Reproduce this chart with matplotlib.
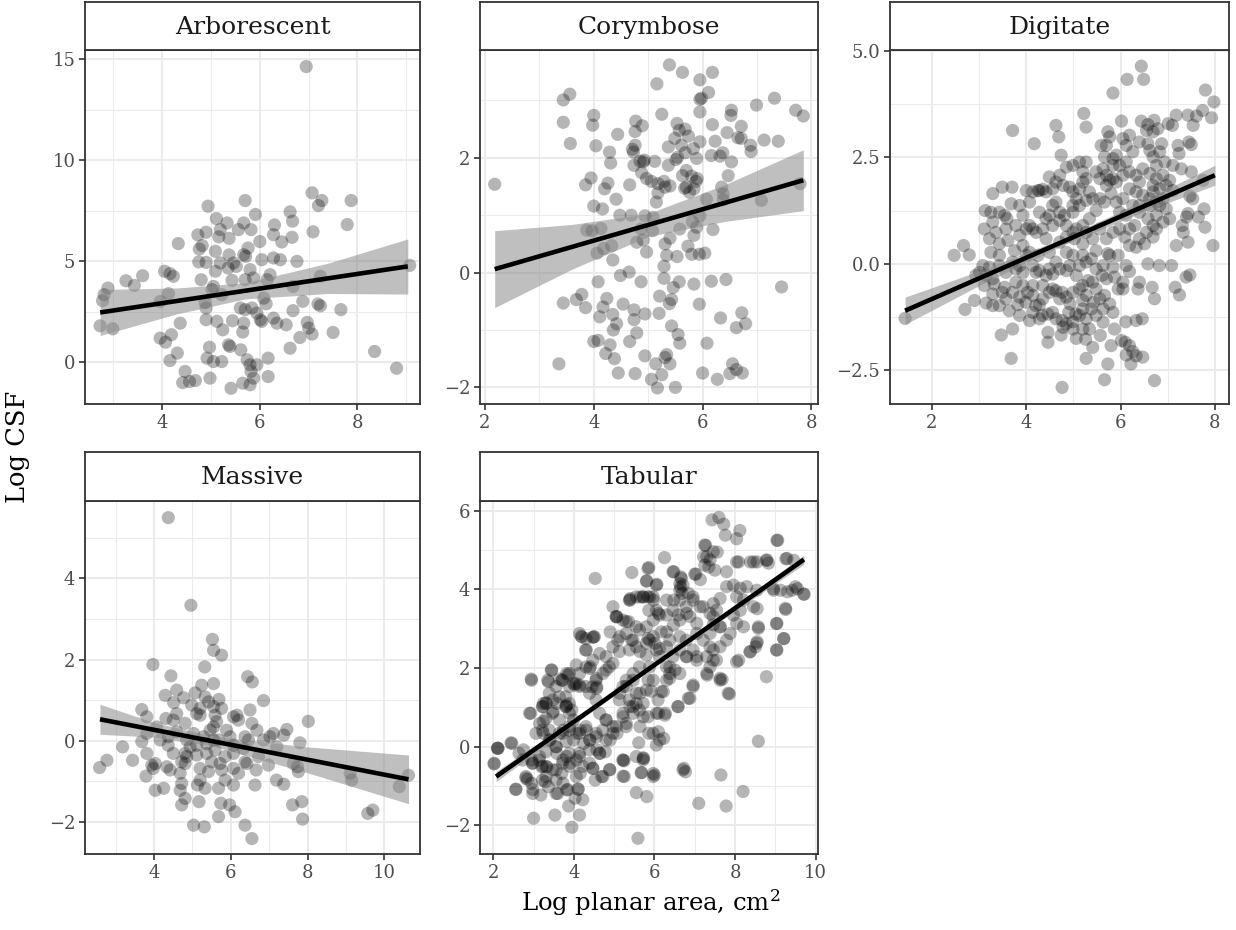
import numpy as np
import matplotlib
matplotlib.use("Agg")
import matplotlib.pyplot as plt

plt.rcParams['font.family'] = ['DejaVu Serif']
plt.rcParams['mathtext.fontset'] = 'dejavuserif'
plt.rcParams['axes.unicode_minus'] = True

panel_names = ["Arborescent", "Corymbose", "Digitate", "Massive", "Tabular"]
x_title = "Log planar area, cm$^2$"
y_title = "Log CSF"

arb_points = [
    (6.95,14.63),(7.07,8.38),(7.27,8.0),(7.2,7.75),(7.87,8.0),(7.79,6.81),(7.09,6.45),(6.62,7.44),(6.67,6.98),(6.66,6.18),
    (6.3,6.79),(6.28,6.31),(6.45,5.95),(5.7,8.0),(5.91,7.31),(4.94,7.72),(5.11,7.11),(5.33,6.89),(5.19,6.56),(5.16,6.2),
    (5.37,6.13),(5.56,6.56),(5.67,6.89),(5.82,6.56),(6.0,5.97),(4.73,6.3),(4.9,6.43),(4.33,5.87),(4.76,5.6),(4.82,5.77),
    (5.09,5.49),(5.37,5.31),(5.76,5.65),(5.71,5.24),(5.67,5.32),(5.46,4.91),(5.19,4.91),(4.75,4.96),(4.9,4.94),(5.09,4.5),
    (5.35,4.66),(5.52,4.74),(5.8,4.58),(6.04,5.07),(6.28,5.16),(6.42,5.07),(6.76,4.99),(6.21,4.33),(6.15,4.08),(5.87,4.17),
    (5.7,4.08),(5.43,4.05),(5.05,3.75),(5.02,3.59),(5.22,3.34),(4.8,4.08),(4.05,4.5),(4.16,4.38),(4.23,4.25),(3.6,4.28),
    (3.26,4.03),(3.43,3.8),(2.89,3.67),(2.81,3.34),(2.78,3.04),(4.13,3.39),(3.96,3.01),(4.88,2.96),(4.9,2.68),(5.6,2.68),
    (5.7,2.6),(5.84,2.68),(6.08,3.17),(6.13,2.89),(6.68,3.75),(7.24,4.25),(7.24,2.79),(7.19,2.88),(6.88,3.01),(6.68,2.55),
    (7.66,2.6),(9.07,4.79),(2.73,1.8),(2.99,1.65),(4.37,1.93),(4.9,2.1),(5.12,2.02),(5.24,1.6),(5.44,2.05),(5.67,1.93),
    (5.65,1.49),(5.94,2.43),(6.01,2.1),(6.04,2.02),(6.28,2.18),(6.35,1.93),(6.54,1.85),(6.97,1.97),(7.0,1.69),(7.07,1.39),
    (6.82,1.22),(7.5,1.47),(3.96,1.19),(4.07,0.99),(4.19,1.36),(4.31,0.45),(4.16,0.08),(4.97,0.74),(5.36,0.86),(5.39,0.78),
    (5.61,0.61),(6.62,0.69),(6.17,0.2),(4.92,0.2),(5.05,0.03),(5.22,0.03),(5.74,0.12),(5.8,-0.13),(5.94,-0.13),(5.82,-0.46),
    (5.87,-0.79),(6.17,-0.71),(4.47,-0.46),(4.42,-1.01),(4.56,-0.96),(4.68,-0.91),(4.98,-0.79),(5.41,-1.29),(5.65,-1.04),(5.8,-1.12),
    (8.35,0.53),(8.8,-0.3),
]

cor_points = [
    (2.18,1.54),(3.36,-1.59),(3.44,3.01),(3.56,3.11),(3.44,2.62),(3.57,2.25),(4.0,2.74),(3.98,2.57),(4.04,2.21),(4.44,2.41),
    (4.29,2.1),(4.31,1.91),(3.85,1.53),(3.95,1.65),(4.2,1.46),(4.26,1.56),(4.41,1.28),(4.0,1.16),(4.16,1.11),(4.66,1.53),
    (4.48,1.0),(4.69,1.0),(3.87,0.74),(3.97,0.73),(4.13,0.77),(4.06,0.34),(4.18,0.42),(4.33,0.47),(4.35,0.22),(4.49,-0.05),
    (4.65,0.01),(4.08,-0.16),(4.87,-0.16),(3.44,-0.53),(3.68,-0.47),(3.78,-0.38),(3.85,-0.61),(4.24,-0.45),(4.17,-0.6),(4.11,-0.77),
    (4.35,-0.73),(4.54,-0.55),(4.74,-0.65),(4.74,-0.82),(4.94,-0.72),(4.42,-0.89),(4.36,-1.0),(4.0,-1.2),(4.08,-1.18),(4.3,-1.26),
    (4.66,-1.2),(4.79,-1.05),(4.22,-1.41),(4.38,-1.5),(4.45,-1.75),(4.76,-1.76),(4.94,-1.45),(5.14,-1.59),(5.06,-1.86),(5.25,-1.78),
    (5.17,-2.01),(5.5,-2.0),(5.4,-1.59),(5.34,-1.43),(5.31,-1.48),(6.0,-1.75),(6.27,-1.86),(6.5,-1.76),(6.55,-1.59),(6.62,-1.69),
    (6.73,-1.75),(5.43,-0.93),(5.55,-1.08),(5.58,-1.23),(6.08,-1.23),(6.33,-0.79),(6.62,-0.96),(6.72,-0.7),(6.79,-0.89),(5.2,-0.71),
    (5.21,-0.41),(5.39,-0.54),(5.43,-0.47),(5.46,-0.26),(5.57,-0.16),(5.29,-0.1),(5.84,-0.2),(5.94,-0.55),(6.16,-0.15),(6.43,-0.12),
    (7.45,-0.25),(5.29,0.11),(5.34,0.3),(5.31,0.5),(5.4,0.6),(5.53,0.28),(4.97,0.36),(4.79,0.53),(4.91,0.57),(4.87,0.76),
    (4.94,0.99),(5.09,0.96),(5.08,0.73),(5.15,1.23),(5.18,1.39),(5.4,1.51),(5.58,0.76),(5.73,0.46),(5.8,0.32),(5.94,0.32),
    (6.04,0.34),(5.84,0.65),(5.89,0.79),(5.81,0.89),(5.95,0.99),(6.19,0.75),(6.07,1.28),(6.38,1.27),(6.38,1.37),(6.35,1.49),
    (6.47,1.69),(7.08,1.26),(7.79,1.55),(4.97,1.64),(5.06,1.59),(5.29,1.59),(5.31,1.49),(5.18,1.55),(4.74,1.87),(4.88,1.74),
    (4.85,1.94),(4.93,1.96),(5.12,1.94),(5.37,1.87),(5.51,1.97),(5.54,2.01),(5.63,1.69),(5.7,1.78),(5.8,1.68),(5.88,1.59),
    (5.9,1.64),(5.7,1.49),(5.76,1.4),(5.84,1.46),(5.67,1.47),(4.71,2.15),(4.73,2.1),(4.76,2.22),(4.91,1.93),(5.37,2.19),
    (5.49,2.34),(5.57,2.48),(5.68,2.5),(5.74,2.38),(5.61,2.22),(5.83,2.16),(5.95,2.28),(5.89,1.99),(5.68,2.09),(5.53,2.6),
    (4.77,2.64),(4.89,2.56),(4.76,2.46),(5.25,2.76),(5.16,3.29),(5.39,3.62),(5.63,3.49),(5.95,3.36),(6.18,3.49),(5.95,3.02),
    (6.11,3.14),(5.98,3.04),(5.95,2.8),(6.18,2.58),(6.23,2.29),(6.16,2.04),(6.32,2.03),(6.37,2.09),(6.53,1.93),(6.45,2.44),
    (6.53,2.83),(6.52,2.74),(6.71,2.55),(6.65,2.35),(6.71,2.34),(6.88,2.22),(6.89,2.11),(6.99,2.92),(7.13,2.31),(7.32,3.04),
    (7.39,2.29),(7.71,2.83),(7.85,2.73),
]

dig_points = [
    (1.43,-1.28),(2.47,0.2),(2.67,0.43),(2.79,0.21),(2.7,-1.07),(2.9,-0.86),(3.15,-0.92),(2.93,-0.27),(3.08,-0.04),(3.29,1.65),
    (3.49,1.8),(3.7,1.8),(3.71,3.13),(4.17,2.82),(4.63,3.25),(4.69,2.98),(4.74,2.55),(5.22,3.53),(5.27,3.21),(5.84,4.01),
    (6.14,4.33),(6.44,4.64),(6.49,4.33),(7.8,4.08),(7.98,3.8),(7.93,3.43),(7.74,3.6),(7.61,3.47),(7.43,3.49),(7.54,3.25),
    (7.18,3.49),(7.1,3.25),(7.01,3.29),(6.71,3.37),(6.44,3.35),(6.02,3.35),(6.58,3.27),(6.79,3.17),(7.45,2.86),(7.5,2.8),
    (7.22,2.78),(7.24,2.59),(7.29,2.23),(7.5,2.16),(7.75,1.96),(7.47,1.59),(7.53,1.53),(7.77,1.29),(7.65,1.1),(7.4,1.1),
    (7.43,1.18),(7.31,0.9),(7.33,0.74),(7.79,0.86),(7.43,0.51),(7.18,0.43),(7.96,0.43),(7.08,-0.04),(6.82,-0.04),(6.58,0.0),
    (7.47,-0.26),(7.39,-0.31),(7.16,-0.55),(7.25,-0.73),(6.67,-0.55),(6.72,-0.82),(6.4,-0.43),(6.37,-0.59),(6.12,-0.04),(6.19,-0.18),
    (6.05,-0.43),(5.84,-0.08),(5.87,-0.31),(5.95,-0.59),(6.05,-0.59),(5.63,-0.04),(5.61,-0.27),(5.7,-0.35),(5.66,-0.74),(5.77,-0.94),
    (5.84,-1.14),(5.87,-1.53),(5.8,-1.92),(5.73,-2.35),(5.66,-2.72),(6.02,-1.8),(6.1,-1.84),(6.19,-1.92),(6.11,-1.36),(6.33,-1.33),
    (6.46,-1.29),(6.26,-2.06),(6.12,-2.14),(6.33,-2.16),(6.47,-2.19),(6.22,-2.35),(6.72,-2.74),(4.76,-2.9),(3.68,-2.22),(3.47,-1.67),
    (3.71,-1.53),(4.46,-1.61),(4.46,-1.84),(4.74,-1.67),(5.06,-1.75),(5.27,-2.22),(5.41,-1.96),(5.26,-1.77),(5.2,-1.53),(5.57,-1.68),
    (4.99,-1.36),(4.85,-1.41),(4.76,-1.33),(5.05,-1.18),(4.9,-1.14),(4.56,-1.14),(4.34,-1.21),(4.46,-1.18),(4.07,-1.33),(3.86,-1.21),
    (3.82,-0.96),(3.64,-1.1),(3.43,-0.98),(3.49,-0.67),(3.29,-0.71),(3.32,-0.47),(3.54,-0.55),(3.71,-0.67),(3.99,-0.9),(4.03,-0.67),
    (4.2,-0.98),(4.28,-0.96),(4.49,-0.67),(4.63,-0.63),(4.76,-0.67),(4.85,-0.78),(4.93,-0.94),(5.2,-0.86),(5.27,-0.74),(5.38,-1.06),
    (5.43,-0.9),(5.2,-0.51),(5.31,-0.39),(5.48,-0.59),(5.56,-0.82),(5.06,-0.27),(4.85,-0.16),(4.71,-0.12),(4.56,-0.24),(4.42,-0.27),
    (4.28,-0.16),(4.14,-0.04),(3.93,-0.2),(3.78,-0.12),(3.57,-0.2),(3.29,-0.35),(3.22,-0.08),(3.25,0.27),(3.43,0.2),(3.75,0.31),
    (3.93,0.43),(4.07,0.27),(4.0,0.2),(4.25,0.2),(4.49,0.27),(4.85,0.27),(4.99,0.2),(5.2,0.2),(5.27,0.04),(5.48,0.31),
    (5.73,0.24),(5.38,0.12),(5.2,0.47),(5.02,0.59),(4.85,0.63),(4.71,0.51),(4.42,0.59),(4.21,0.74),(4.0,0.82),(3.86,0.67),
    (3.61,0.55),(3.43,0.47),(3.22,0.59),(3.11,0.82),(3.29,0.98),(3.25,1.21),(3.13,1.25),(3.43,1.21),(3.54,1.14),(3.59,1.06),
    (3.68,1.41),(3.86,1.37),(4.07,1.45),(4.14,1.69),(4.0,1.72),(4.25,1.72),(4.35,1.75),(4.49,2.04),(4.63,1.92),(4.78,1.84),
    (4.92,1.8),(4.56,1.37),(4.63,1.45),(4.28,1.21),(4.07,0.9),(4.14,0.82),(4.35,0.82),(4.71,1.02),(4.81,1.14),(4.99,1.21),
    (5.06,1.53),(5.2,1.92),(5.27,2.0),(5.2,2.16),(4.99,2.31),(4.85,2.27),(4.71,2.08),(5.13,2.39),(5.27,2.39),(5.59,2.78),
    (5.66,2.51),(5.73,3.1),(5.77,2.98),(5.7,2.78),(5.84,2.47),(5.91,2.55),(5.84,2.31),(5.63,2.23),(5.48,2.16),(5.56,2.0),
    (5.7,2.08),(5.7,1.84),(5.8,1.65),(5.56,1.53),(5.66,1.45),(5.41,1.53),(5.27,1.49),(5.48,1.25),(5.34,1.06),(5.2,0.9),
    (5.06,0.82),(5.56,0.82),(5.7,0.59),(5.84,0.74),(5.98,0.82),(6.09,0.63),(6.19,0.43),(6.33,0.39),(6.4,0.59),(6.51,0.47),
    (6.69,0.63),(6.76,0.82),(6.9,0.98),(7.04,1.06),(6.97,1.29),(6.76,1.14),(6.58,1.06),(6.4,1.21),(6.26,1.37),(6.12,1.14),
    (5.98,1.21),(5.91,1.45),(6.05,1.53),(6.19,1.76),(6.33,1.69),(6.47,1.61),(6.62,1.53),(6.76,1.45),(6.9,1.53),(6.97,1.84),
    (7.11,1.72),(7.04,1.96),(6.9,2.08),(6.76,2.0),(6.62,2.12),(6.47,2.23),(6.33,2.08),(6.19,2.16),(6.05,2.08),(5.98,2.31),
    (6.12,2.39),(6.26,2.63),(6.12,2.78),(6.05,2.94),(6.19,3.02),(6.4,2.86),(6.58,2.82),(6.62,2.66),(6.69,2.51),(6.83,2.63),
    (6.87,2.82),(6.94,2.39),(6.76,2.31),(7.11,2.31),(6.69,3.1),(6.55,3.13),(5.84,2.0),(5.77,1.96),(5.91,1.92),(6.4,1.92),
    (6.69,1.84),(6.83,1.76),(6.69,1.69),(6.4,1.37),(6.62,1.37),(6.83,1.37),(6.55,0.74),(6.69,0.9),(6.3,0.9),(6.19,0.82),
    (5.95,0.2),(5.77,0.2),(5.41,0.59),(5.27,0.74),(4.99,0.74),(4.85,0.9),(4.56,0.9),(4.42,1.06),(4.56,1.76),(4.42,1.69),
    (4.28,1.72),(4.99,1.69),(5.13,1.76),(5.34,1.69),(5.13,1.37),(4.99,1.37),(4.71,1.21),(4.49,1.14),(3.93,1.14),(3.78,0.9),
    (3.57,0.82),(3.36,0.74),(3.71,0.04),(3.86,-0.04),(4.21,-0.2),(4.49,-0.12),(4.63,0.04),(4.92,-0.04),(5.13,-0.04),(5.48,-0.12),
    (5.41,-0.43),(5.13,-0.59),(4.99,-0.67),(4.56,-0.59),(4.35,-0.51),(4.14,-0.51),(3.93,-0.51),(3.78,-0.43),(4.14,-0.74),(4.35,-0.82),
    (4.71,-0.82),(5.2,-1.06),(5.27,-1.29),(5.13,-1.21),(5.48,-1.21),(5.63,-1.06),(5.63,-1.37),(5.34,-1.53),(4.99,-1.53),(4.78,-1.49),
    (4.63,-1.29),(4.28,-1.29),(4.14,-1.14),(3.86,-0.78),(3.57,-0.82),(3.29,-0.98),(3.11,-0.51),(3.15,-0.27),(3.43,-0.04),(3.01,-0.2),
]

mas_points = [
    (4.37,5.5),(4.96,3.34),(5.52,2.5),(5.55,2.23),(5.76,2.11),(3.97,1.88),(5.32,1.82),(4.44,1.6),(6.44,1.58),(6.56,1.45),
    (5.24,1.37),(5.55,1.41),(4.59,1.25),(4.29,1.12),(4.77,1.06),(4.51,0.94),(5.07,1.18),(5.33,1.08),(5.42,0.96),(5.69,1.02),
    (6.85,0.99),(4.98,0.88),(5.2,0.8),(5.55,0.84),(5.76,0.8),(6.5,0.76),(3.68,0.77),(3.81,0.59),(4.31,0.55),(4.5,0.51),
    (4.59,0.67),(5.11,0.67),(5.2,0.63),(5.59,0.63),(5.63,0.47),(6.07,0.59),(6.2,0.51),(6.16,0.63),(8.02,0.48),(7.46,0.28),
    (7.38,0.14),(7.11,0.18),(7.02,0.1),(6.85,0.02),(6.68,0.26),(6.55,0.43),(6.37,0.1),(6.46,0.02),(5.89,0.26),(5.98,0.1),
    (5.68,0.02),(5.46,0.26),(5.55,0.34),(5.29,0.1),(5.03,0.18),(4.81,0.43),(4.59,0.22),(4.37,0.1),(4.07,0.34),(3.81,0.18),
    (3.68,-0.02),(4.16,0.02),(4.37,-0.11),(4.85,0.02),(5.11,-0.11),(5.37,-0.07),(5.59,-0.23),(6.07,-0.11),(6.33,-0.19),(6.72,-0.39),
    (6.98,-0.6),(7.2,-0.15),(7.8,-0.05),(7.63,-0.56),(7.74,-0.64),(7.76,-0.76),(7.19,-0.97),(7.38,-1.07),(6.63,-1.09),(6.66,-0.72),
    (6.42,-0.56),(6.37,-0.52),(6.2,-0.8),(6.07,-0.68),(5.85,-0.39),(5.72,-0.56),(5.76,-0.72),(5.85,-0.97),(6.07,-1.09),(5.68,-1.17),
    (5.5,-0.52),(5.42,-0.76),(5.2,-0.68),(5.2,-0.97),(5.33,-1.17),(5.13,-1.09),(4.81,-0.31),(4.72,-0.52),(4.81,-0.56),(4.5,-0.31),
    (4.33,-0.64),(4.42,-0.72),(4.68,-0.8),(4.72,-1.05),(4.68,-1.22),(4.81,-1.42),(4.72,-1.58),(5.17,-1.5),(4.03,-0.56),(3.98,-0.68),
    (3.94,-0.6),(3.81,-0.31),(3.79,-0.87),(4.03,-1.22),(4.25,-1.17),(3.18,-0.15),(3.44,-0.48),(2.77,-0.48),(2.58,-0.66),(5.74,-1.54),
    (5.97,-1.58),(6.11,-1.75),(5.68,-1.87),(5.03,-2.08),(5.31,-2.12),(6.37,-2.08),(6.55,-2.41),(7.61,-1.58),(7.85,-1.5),(7.87,-1.93),
    (9.15,-0.97),(9.11,-0.8),(10.39,-1.13),(10.63,-0.85),(9.57,-1.79),(9.7,-1.71),(4.85,-0.39),(5.11,-0.35),(5.37,-0.31),(6.07,-0.31),
    (4.94,-0.15),(5.55,0.02),
]

tab_points = [
    (7.43,5.77),(7.6,5.83),(7.72,5.66),(7.76,5.38),(8.04,5.29),(8.12,5.5),(9.06,5.25),(7.27,5.12),(7.22,4.83),(7.35,4.57),
    (7.56,4.95),(7.03,4.39),(7.14,4.25),(6.25,4.81),(5.86,4.56),(5.81,4.22),(6.06,4.13),(5.44,4.43),(4.53,4.28),(8.09,4.7),
    (8.38,4.7),(8.55,4.7),(8.78,4.74),(8.83,4.67),(9.26,4.78),(9.46,4.74),(8.95,4.02),(9.13,3.98),(9.3,3.94),(9.55,4.02),
    (9.71,3.88),(9.26,3.49),(9.03,3.13),(9.21,2.75),(9.03,2.46),(8.58,3.05),(8.55,3.51),(8.55,2.67),(8.51,2.54),(8.37,2.41),
    (8.09,2.2),(8.78,1.78),(8.58,0.14),(8.2,-1.14),(7.78,-1.51),(7.65,-0.72),(7.1,-1.44),(6.73,-0.55),(6.77,-0.64),(7.86,1.34),
    (7.68,1.71),(7.31,1.82),(6.96,1.57),(6.88,1.23),(6.58,1.02),(6.27,0.85),(6.1,0.85),(6.1,0.38),(5.86,0.34),(6.23,0.21),
    (6.05,0.04),(5.61,0.1),(5.73,-0.3),(5.25,-0.36),(5.25,-0.76),(5.67,-0.66),(6.0,-0.72),(5.55,-1.17),(5.81,-1.27),(4.53,-0.85),
    (4.69,-0.76),(4.89,-0.58),(4.47,-0.55),(4.11,-1.08),(3.82,-1.1),(4.03,-1.31),(4.22,-1.35),(3.87,-1.51),(4.14,-1.74),(3.53,-1.74),
    (3.0,-1.82),(3.95,-2.05),(5.59,-2.33),(2.56,-1.08),(2.98,-1.19),(3.18,-1.23),(3.37,-1.02),(3.29,-0.89),(3.6,-1.19),(3.56,-0.85),
    (2.85,-0.83),(2.95,-0.93),(2.12,-0.04),(2.02,-0.44),(2.46,0.08),(2.75,-0.08),(2.95,-0.34),(3.2,-0.51),(3.33,-0.51),(2.95,1.69),
    (3.37,1.65),(2.93,0.85),(3.24,1.1),(3.31,1.12),(3.45,1.95),(3.7,1.69),(3.82,1.86),(3.24,0.64),(3.24,0.34),(3.41,0.17),
    (3.58,-0.17),(3.82,-0.25),(3.99,0.17),(4.24,0.08),(4.16,-0.68),(3.91,-0.42),(3.7,-0.68),(3.49,0.89),(3.58,1.1),(3.82,1.06),
    (3.95,0.93),(3.99,0.68),(3.74,0.42),(4.16,0.42),(4.4,0.17),(4.57,-0.08),(4.78,-0.13),(4.9,0.17),(5.07,0.34),(4.2,2.79),
    (4.31,2.46),(4.49,2.79),(4.41,2.03),(4.57,1.52),(4.45,1.52),(3.99,1.61),(4.14,1.57),(4.9,2.92),(5.07,3.3),(5.36,3.18),
    (5.4,3.77),(5.65,3.81),(5.83,3.81),(5.98,3.73),(6.3,3.73),(6.48,3.73),(6.1,3.39),(5.86,3.47),(6.48,4.45),(6.65,4.32),
    (6.65,4.06),(6.69,3.9),(5.84,4.53),(5.8,4.21),(6.05,4.11),(6.46,4.45),(6.67,4.28),(7.0,4.39),(7.25,4.62),(7.38,4.75),
    (7.5,4.49),(7.3,4.83),(7.46,4.96),(7.25,5.13),(7.79,4.45),(8.04,4.7),(8.46,4.7),(8.79,4.75),(9.04,5.25),(6.71,4.11),
    (6.63,3.98),(6.84,3.9),(6.96,3.73),(6.79,3.56),(6.63,3.73),(6.46,3.47),(6.3,3.35),(6.59,3.35),(6.88,3.31),(7.05,3.14),
    (7.21,3.56),(7.46,3.64),(7.54,3.47),(7.63,3.77),(7.79,4.07),(7.96,4.11),(8.13,4.03),(8.29,4.07),(8.04,3.81),(8.21,3.73),
    (8.13,3.47),(7.96,3.35),(8.04,3.14),(8.21,3.05),(7.88,2.88),(7.79,2.71),(7.63,2.54),(7.46,2.46),(7.3,2.29),(7.54,2.2),
    (7.38,2.03),(7.63,1.69),(7.3,1.86),(7.05,2.29),(6.96,2.46),(6.79,2.29),(6.63,2.46),(6.46,2.29),(6.3,2.54),(6.38,2.71),
    (6.63,2.8),(6.79,2.71),(6.17,2.92),(5.97,2.8),(5.8,3.05),(5.63,2.97),(5.47,2.71),(5.3,2.88),(5.09,2.71),(4.97,2.54),
    (5.13,2.42),(5.38,2.46),(5.55,2.54),(5.8,2.63),(5.88,2.71),(6.05,2.46),(6.13,2.29),(6.3,2.03),(6.38,1.86),(6.3,1.69),
    (6.17,1.4),(6.09,1.19),(6.05,0.85),(5.84,0.76),(5.63,0.93),(5.72,1.1),(5.47,1.02),(5.38,1.19),(5.55,1.36),(5.8,1.44),
    (5.97,1.69),(5.88,2.03),(5.63,2.03),(5.47,1.86),(5.3,1.69),(5.22,1.53),(5.13,1.19),(5.22,0.85),(5.3,0.59),(5.05,0.51),
    (4.8,0.68),(4.64,0.85),(4.55,1.19),(4.39,1.36),(4.3,1.53),(4.55,1.69),(4.72,1.86),(4.88,2.03),(4.8,2.29),(4.64,2.37),
    (4.47,2.2),(4.3,2.03),(4.14,1.86),(4.05,1.61),(3.89,1.53),(3.8,1.27),(3.8,1.02),(3.89,0.85),(3.64,0.68),(3.47,0.85),
    (3.31,1.1),(3.22,1.02),(3.39,1.36),(3.56,1.53),(3.72,1.69),(3.89,1.86),(4.14,2.88),(4.3,2.75),(4.51,2.8),(5.05,3.31),
    (5.22,3.22),(4.97,3.56),(5.38,3.73),(5.55,3.81),(5.72,3.81),(5.88,3.81),(6.05,3.47),(5.97,3.22),(6.13,3.35),(4.14,0.34),
    (4.3,0.51),(4.39,0.17),(4.55,0.34),(4.8,0.17),(4.97,0.34),(4.64,-0.17),(4.39,-0.42),(4.14,-0.25),(3.89,-0.17),(3.72,-0.42),
    (3.56,-0.59),(3.31,-0.51),(3.14,-0.34),(2.97,-0.42),(2.81,-0.76),(3.22,-0.85),(3.56,0.0),(3.39,0.17),(3.22,0.42),(3.06,0.34),
    (3.72,0.34),(3.89,0.42),(2.1,-0.04),(2.64,-0.17),(5.22,-0.34),(5.55,-0.25),(5.72,-0.34),(5.97,-0.68),(6.71,-0.59),(8.04,2.16),
    (8.38,2.42),(8.54,2.63),(8.58,3.01),(9.04,3.14),(9.21,2.75),(9.04,2.46),(9.25,3.52),(8.96,3.98),(9.42,3.98),(9.71,3.88),
    (9.29,4.79),(9.5,4.07),(8.54,3.98),(8.46,3.56),(7.63,3.05),(7.38,2.88),(7.21,2.71),(7.05,2.88),(7.46,3.1),(7.38,3.39),
    (3.44,1.95),(2.94,1.72),(3.35,1.69),(3.64,1.72),(3.85,1.82),(4.06,2.08),(4.18,2.81),(4.47,2.78),(4.29,2.46),(4.02,1.57),
    (4.14,1.53),(4.39,1.99),(4.56,1.48),(4.56,1.74),(4.8,1.95),(4.97,2.12),(5.05,3.31),(5.3,3.18),(5.14,2.8),(5.43,2.71),
    (5.55,3.05),(5.39,3.73),(5.72,3.81),(5.97,3.81),(5.84,2.75),(6.01,2.63),(6.13,2.5),(5.64,2.42),(5.8,2.33),(6.3,2.92),
    (6.47,3.09),(6.63,3.22),(6.8,3.39),(6.63,4.15),(6.96,3.81),(7.13,3.56),(7.46,3.31),(7.63,3.05),(7.38,2.54),(7.46,2.2),
    (7.63,1.74),(7.05,2.2),(6.8,2.29),(6.51,1.95),(6.38,2.03),(6.38,1.74),(6.22,1.4),(6.63,1.86),(6.96,1.53),(6.84,1.23),
    (6.59,1.02),(7.83,1.36),(5.84,1.7),(5.92,1.41),(5.64,1.36),(5.55,1.1),(5.39,1.02),(5.14,1.36),(5.3,1.53),(5.47,1.69),
    (5.22,0.76),(5.47,0.85),(5.72,0.76),(5.64,0.51),(5.3,0.51),(4.97,0.51),(4.8,0.68),(4.72,0.42),(4.56,0.25),(4.31,0.42),
    (4.06,0.34),(3.89,0.51),(3.81,1.02),(3.89,1.1),(3.64,1.27),(3.48,1.19),(3.23,1.02),(3.31,0.72),(2.9,0.85),(3.15,0.59),
    (3.39,0.42),(3.64,0.34),(3.81,0.13),(3.56,0.0),(3.31,-0.13),(3.15,-0.25),(2.98,-0.42),(3.23,-0.5),(3.48,-0.59),(3.73,-0.34),
    (3.89,-0.5),(4.06,-0.34),(4.22,-0.5),(4.14,-0.17),(4.39,-0.08),(4.64,-0.17),(4.47,-0.55),(4.72,-0.76),(4.89,-0.59),(4.06,-0.76),
    (3.73,-0.93),(3.31,-0.76),(2.81,-0.8),(2.73,-0.34),(2.44,0.1),(2.11,-0.04),(2.02,-0.42),(2.56,-1.09),(2.98,-1.09),(3.56,-1.19),
    (3.85,-1.09),(4.1,-1.08),(5.22,-0.34),(5.72,-0.28),(5.22,-0.75),(5.68,-0.66),(5.97,-0.76),(5.97,0.34),(6.13,0.17),(6.26,0.8),
]

# geom_smooth (lm) fitted line and 95% band
arb_sx = [2.73, 4.3, 5.7, 7.4, 9.03]
arb_fit = [2.46, 3.03, 3.53, 4.15, 4.74]
arb_lo = [1.32, 2.39, 3.13, 3.40, 3.37]
arb_hi = [3.60, 3.67, 3.93, 4.90, 6.10]

cor_sx = [2.18, 3.6, 5.0, 6.4, 7.85]
cor_fit = [0.06, 0.45, 0.83, 1.21, 1.61]
cor_lo = [-0.61, 0.06, 0.63, 0.89, 1.08]
cor_hi = [0.73, 0.84, 1.03, 1.53, 2.14]

dig_sx = [1.43, 3.0, 4.8, 6.5, 8.0]
dig_fit = [-1.10, -0.34, 0.53, 1.36, 2.08]
dig_lo = [-1.42, -0.51, 0.45, 1.23, 1.845]
dig_hi = [-0.78, -0.17, 0.61, 1.49, 2.315]

mas_sx = [2.59, 4.0, 5.5, 8.0, 10.63]
mas_fit = [0.53, 0.27, 0.0, -0.47, -0.95]
mas_lo = [0.16, 0.09, -0.12, -0.79, -1.55]
mas_hi = [0.90, 0.45, 0.12, -0.15, -0.35]

tab_sx = [2.07, 4.0, 6.0, 8.0, 9.71]
tab_fit = [-0.76, 0.634, 2.08, 3.52, 4.76]
tab_lo = [-0.89, 0.564, 2.035, 3.45, 4.64]
tab_hi = [-0.63, 0.704, 2.125, 3.59, 4.88]

# tick positions and labels
arb_xticks = [4, 6, 8]
arb_yticks = [0, 5, 10, 15]
cor_xticks = [2, 4, 6, 8]
cor_yticks = [-2, 0, 2]
dig_xticks = [2, 4, 6, 8]
dig_yticks = [-2.5, 0.0, 2.5, 5.0]
dig_ylabels = ["\u22122.5", "0.0", "2.5", "5.0"]
mas_xticks = [4, 6, 8, 10]
mas_yticks = [-2, 0, 2, 4]
tab_xticks = [2, 4, 6, 8, 10]
tab_yticks = [-2, 0, 2, 4, 6]

W, H = 1236, 930
fig = plt.figure(figsize=(W / 100, H / 100), dpi=100)
fig.patch.set_facecolor("white")


def rect(x0, y0, x1, y1):
    return [x0 / W, 1 - y1 / H, (x1 - x0) / W, (y1 - y0) / H]


def lab(v):
    s = ("%g" % v)
    return s.replace("-", "\u2212")


panels = [
    dict(name=panel_names[0], pts=arb_points, sx=arb_sx, fit=arb_fit, lo=arb_lo, hi=arb_hi,
         box=(85, 50, 420, 404), strip=(85, 2, 420, 50), xlim=(2.42, 9.28), ylim=(-2.07, 15.45),
         xt=arb_xticks, yt=arb_yticks, xm=[3, 5, 7, 9], ym=[2.5, 7.5, 12.5], ylabels=None),
    dict(name=panel_names[1], pts=cor_points, sx=cor_sx, fit=cor_fit, lo=cor_lo, hi=cor_hi,
         box=(480, 50, 818, 404), strip=(480, 2, 818, 50), xlim=(1.91, 8.12), ylim=(-2.29, 3.88),
         xt=cor_xticks, yt=cor_yticks, xm=[3, 5, 7], ym=[-1, 1, 3], ylabels=None),
    dict(name=panel_names[2], pts=dig_points, sx=dig_sx, fit=dig_fit, lo=dig_lo, hi=dig_hi,
         box=(890, 50, 1229, 404), strip=(890, 2, 1229, 50), xlim=(1.11, 8.3), ylim=(-3.29, 5.02),
         xt=dig_xticks, yt=dig_yticks, xm=[3, 5, 7], ym=[-1.25, 1.25, 3.75], ylabels=dig_ylabels),
    dict(name=panel_names[3], pts=mas_points, sx=mas_sx, fit=mas_fit, lo=mas_lo, hi=mas_hi,
         box=(85, 501, 420, 854), strip=(85, 452, 420, 501), xlim=(2.2, 10.93), ylim=(-2.79, 5.91),
         xt=mas_xticks, yt=mas_yticks, xm=[3, 5, 7, 9], ym=[-1, 1, 3, 5], ylabels=None),
    dict(name=panel_names[4], pts=tab_points, sx=tab_sx, fit=tab_fit, lo=tab_lo, hi=tab_hi,
         box=(480, 501, 818, 854), strip=(480, 452, 818, 501), xlim=(1.67, 10.06), ylim=(-2.73, 6.25),
         xt=tab_xticks, yt=tab_yticks, xm=[3, 5, 7, 9], ym=[-1, 1, 3, 5], ylabels=None),
]

border = "#333333"
for p in panels:
    ax = fig.add_axes(rect(*p["box"]))
    ax.set_facecolor("white")
    ax.set_axisbelow(True)
    pts = np.array(p["pts"])
    ax.scatter(pts[:, 0], pts[:, 1], s=90, c="black", alpha=0.29, edgecolors="none", zorder=2)
    ax.fill_between(p["sx"], p["lo"], p["hi"], color="#8c8c8c", alpha=0.55, lw=0, zorder=3)
    ax.plot([p["sx"][0], p["sx"][-1]], [p["fit"][0], p["fit"][-1]], color="black", lw=3.3,
            solid_capstyle="butt", zorder=4)
    ax.set_xlim(*p["xlim"])
    ax.set_ylim(*p["ylim"])
    ax.set_xticks(p["xt"])
    ax.set_xticklabels([lab(v) for v in p["xt"]])
    ax.set_yticks(p["yt"])
    ax.set_yticklabels(p["ylabels"] if p["ylabels"] else [lab(v) for v in p["yt"]])
    ax.set_xticks(p["xm"], minor=True)
    ax.set_yticks(p["ym"], minor=True)
    ax.grid(which="major", color="#EBEBEB", lw=1.4, zorder=0)
    ax.grid(which="minor", color="#EBEBEB", lw=0.75, zorder=0)
    ax.tick_params(which="major", direction="out", length=4, width=1.2, color=border,
                   labelsize=13, labelcolor="#4D4D4D", pad=3)
    ax.tick_params(which="minor", length=0)
    for s in ax.spines.values():
        s.set_color(border)
        s.set_linewidth(1.3)

    sax = fig.add_axes(rect(*p["strip"]))
    sax.set_facecolor("white")
    sax.set_xticks([])
    sax.set_yticks([])
    for s in sax.spines.values():
        s.set_color(border)
        s.set_linewidth(1.3)
    sax.text(0.5, 0.47, p["name"], ha="center", va="center", fontsize=18, color="#1A1A1A",
             transform=sax.transAxes)

fig.text(651 / W, 1 - 903 / H, x_title, ha="center", va="center", fontsize=17.5, color="black")
fig.text(18 / W, 1 - 447 / H, y_title, ha="center", va="center", rotation=90, fontsize=18.5, color="black")

fig.savefig("out.png", dpi=100, facecolor="white")
